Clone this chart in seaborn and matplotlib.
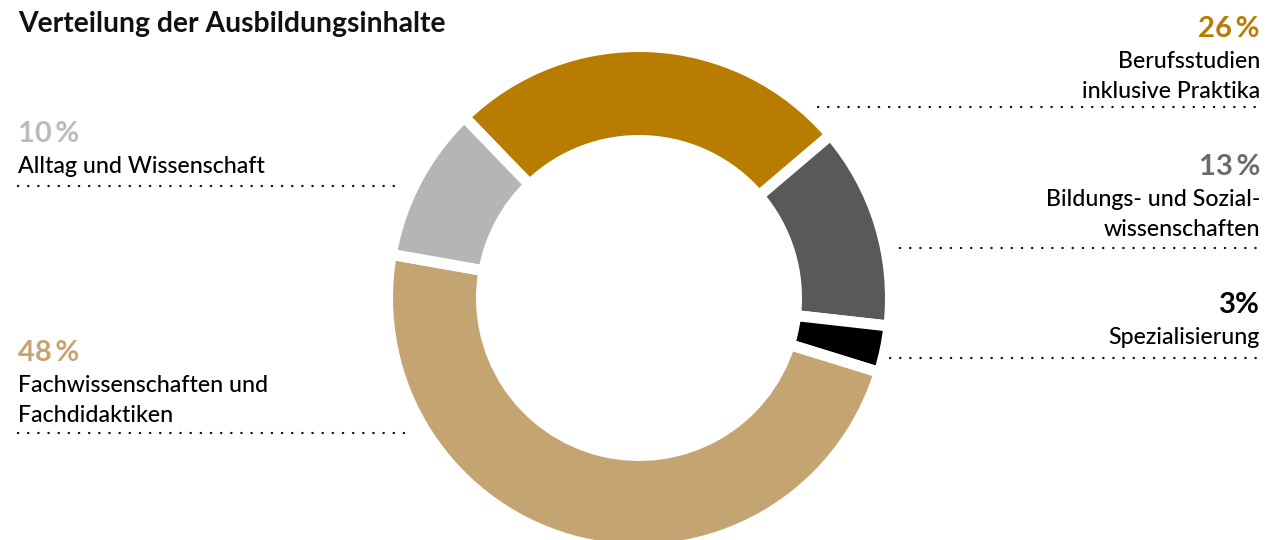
import numpy as np
import matplotlib
matplotlib.use("Agg")
import matplotlib.pyplot as plt
import seaborn as sns

# data, clockwise starting with Berufsstudien
categories = ["Berufsstudien\ninklusive Praktika",
              "Bildungs- und Sozial-\nwissenschaften",
              "Spezialisierung",
              "Fachwissenschaften und\nFachdidaktiken",
              "Alltag und Wissenschaft"]
shares = [26, 13, 3, 48, 10]
pct_labels = ["26\u2009%", "13\u2009%", "3%", "48\u2009%", "10\u2009%"]
colors = ["#B87C00", "#595958", "#000000", "#C4A572", "#B5B5B5"]
text_colors = ["#B87C00", "#6B6B6B", "#000000", "#C4A572", "#BBBBBB"]

sns.set_theme(style="white")
plt.rcParams["font.family"] = ["Lato", "DejaVu Sans"]

W, H = 1288, 540
fig = plt.figure(figsize=(W / 100, H / 100), dpi=100)

# donut: visible outer radius 246px, centre at (639, 298)
gap = 11
r = 246 + gap / 2
cx, cy = 639, 298
ax = fig.add_axes([(cx - r) / W, (H - cy - r) / H, 2 * r / W, 2 * r / H])
ring = (r - (163 - gap / 2)) / r
ax.pie(shares, colors=colors, startangle=134, counterclock=False,
       radius=1, wedgeprops=dict(width=ring, edgecolor="white",
                                 linewidth=gap * 0.72, joinstyle="miter"))
ax.set_xlim(-1, 1)
ax.set_ylim(-1, 1)
ax.set_aspect("equal")
ax.axis("off")

# overlay in pixel coordinates for the labels
tx = fig.add_axes([0, 0, 1, 1], zorder=-1)
tx.set_xlim(0, W)
tx.set_ylim(H, 0)
tx.axis("off")

tx.text(18, 32, "Verteilung der Ausbildungsinhalte", fontsize=20.3,
        fontweight="bold", va="baseline", ha="left", color="#111111")

# label placement: (side, percent baseline, dotted line y, line start/end x)
layout = [("right", 37, 107, 818),
          ("right", 175, 248, 900),
          ("right", 313, 358, 890),
          ("left", 361, 433, 410),
          ("left", 142, 186, 398)]

for cat, pct, tcol, (side, yb, yd, xend) in zip(categories, pct_labels, text_colors, layout):
    if side == "right":
        x, ha = 1260, "right"
        xs = [xend, 1260]
    else:
        x, ha = 18, "left"
        xs = [18, xend]
    tx.text(x, yb, pct, fontsize=21, fontweight="bold", color=tcol,
            ha=ha, va="baseline", family=["Lato", "DejaVu Sans"])
    for i, line in enumerate(cat.split("\n")):
        tx.text(x, yb + 30 * (i + 1) + 1, line, fontsize=16.7, color="#000000",
                fontweight="medium", ha=ha, va="baseline")
    tx.plot(xs, [yd, yd], color="#111111", lw=1.7,
            linestyle=(0, (0.1, 4.2)), dash_capstyle="round")

fig.savefig("out.png", dpi=100, facecolor="white")
